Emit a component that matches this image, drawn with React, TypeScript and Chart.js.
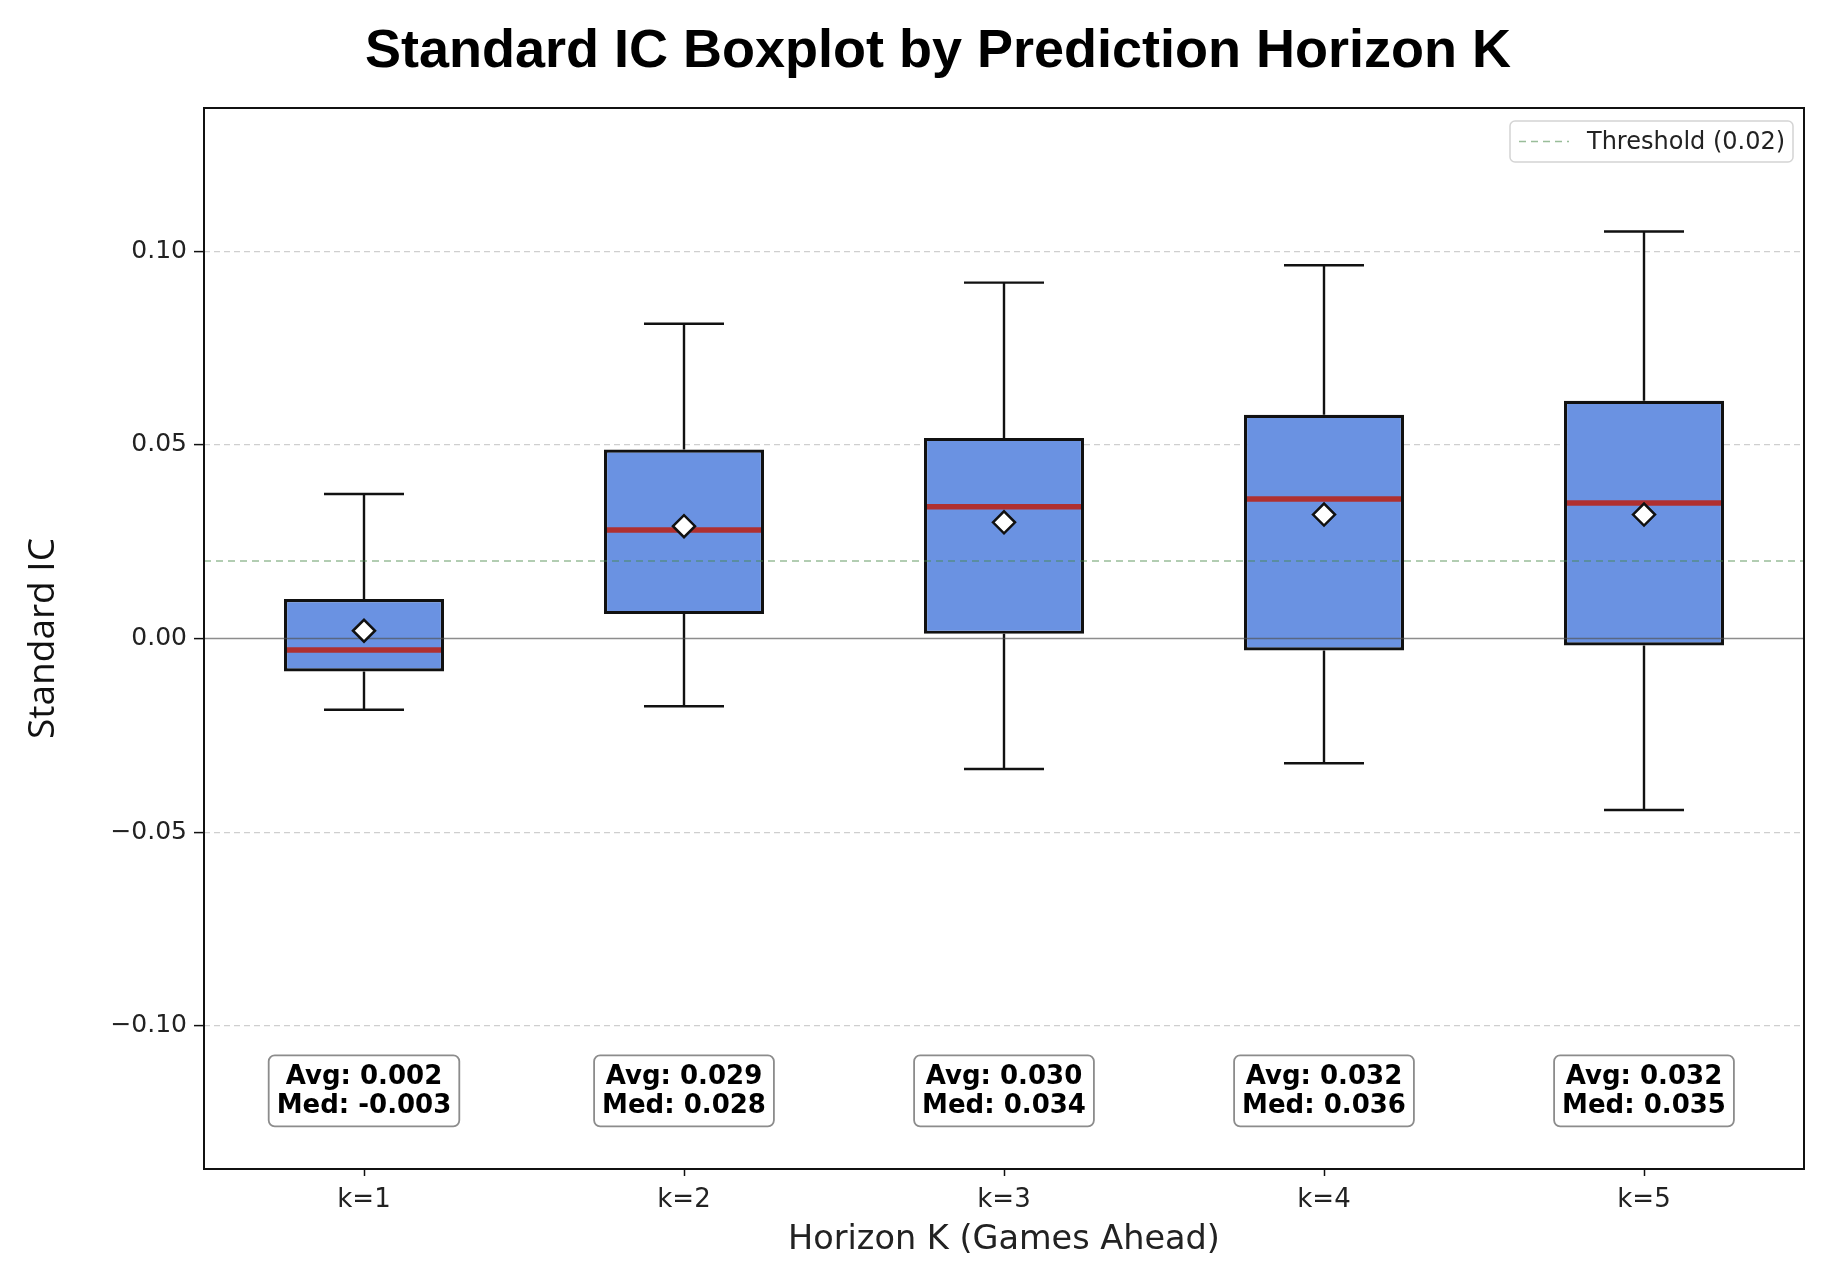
import { useEffect, useRef } from 'react';
import { Chart, registerables } from 'chart.js';

Chart.register(...registerables);

// Horizons and per-horizon box statistics of the standard IC
const CATEGORIES = ['k=1', 'k=2', 'k=3', 'k=4', 'k=5'];
const WHISKER_LOW = [-0.0184, -0.0175, -0.0337, -0.0322, -0.0443];
const Q1 = [-0.0085, 0.0063, 0.0012, -0.0031, -0.0018];
const MEDIANS = [-0.003, 0.028, 0.034, 0.036, 0.035];
const Q3 = [0.0102, 0.0488, 0.0518, 0.0578, 0.0614];
const WHISKER_HIGH = [0.0373, 0.0813, 0.0919, 0.0964, 0.1051];
const MEANS = [0.002, 0.029, 0.030, 0.032, 0.032];

const Y_TICKS = [-0.1, -0.05, 0, 0.05, 0.1];
const Y_MIN = -0.137;
const Y_MAX = 0.137;
const THRESHOLD = 0.02;
const THRESHOLD_LABEL = 'Threshold (0.02)';
const SUMMARY_Y = -0.1168;

const TITLE = 'Standard IC Boxplot by Prediction Horizon K';
const X_TITLE = 'Horizon K (Games Ahead)';
const Y_TITLE = 'Standard IC';

const BOX_FILL = 'rgb(106,146,226)';
const MEDIAN_COLOR = '#b03030';
const THRESHOLD_COLOR = 'rgba(70,135,70,0.55)';
const INK = '#111111';

const BOX_INDEX = 1;

const boxplotExtras = {
  id: 'boxplotExtras',
  beforeDatasetsDraw(chart: any) {
    const { ctx } = chart;
    const y = chart.scales.y;
    const meta = chart.getDatasetMeta(BOX_INDEX);
    ctx.save();
    ctx.strokeStyle = INK;
    ctx.lineWidth = 2.4;
    meta.data.forEach((bar: any, i: number) => {
      const x = bar.x;
      const cap = bar.width / 4;
      const yHi = y.getPixelForValue(WHISKER_HIGH[i]);
      const yLo = y.getPixelForValue(WHISKER_LOW[i]);
      ctx.beginPath();
      ctx.moveTo(x, y.getPixelForValue(Q3[i]));
      ctx.lineTo(x, yHi);
      ctx.moveTo(x, y.getPixelForValue(Q1[i]));
      ctx.lineTo(x, yLo);
      ctx.moveTo(x - cap, yHi);
      ctx.lineTo(x + cap, yHi);
      ctx.moveTo(x - cap, yLo);
      ctx.lineTo(x + cap, yLo);
      ctx.stroke();
    });
    ctx.restore();
  },
  afterDatasetDraw(chart: any, args: any) {
    if (args.index !== BOX_INDEX) return;
    const { ctx, chartArea } = chart;
    const y = chart.scales.y;
    ctx.save();
    // zero reference line
    const y0 = y.getPixelForValue(0);
    ctx.strokeStyle = 'rgba(80,80,80,0.65)';
    ctx.lineWidth = 1.6;
    ctx.beginPath();
    ctx.moveTo(chartArea.left, y0);
    ctx.lineTo(chartArea.right, y0);
    ctx.stroke();
    // threshold line
    const yt = y.getPixelForValue(THRESHOLD);
    ctx.strokeStyle = THRESHOLD_COLOR;
    ctx.setLineDash([7, 5]);
    ctx.lineWidth = 1.6;
    ctx.beginPath();
    ctx.moveTo(chartArea.left, yt);
    ctx.lineTo(chartArea.right, yt);
    ctx.stroke();
    ctx.setLineDash([]);
    // medians
    const meta = chart.getDatasetMeta(BOX_INDEX);
    ctx.strokeStyle = MEDIAN_COLOR;
    ctx.lineWidth = 5.5;
    meta.data.forEach((bar: any, i: number) => {
      const ym = y.getPixelForValue(MEDIANS[i]);
      ctx.beginPath();
      ctx.moveTo(bar.x - bar.width / 2 + 3, ym);
      ctx.lineTo(bar.x + bar.width / 2 - 3, ym);
      ctx.stroke();
    });
    ctx.restore();
  },
  afterDraw(chart: any) {
    const { ctx, chartArea } = chart;
    const x = chart.scales.x;
    const y = chart.scales.y;
    ctx.save();

    // summary boxes
    ctx.font = 'bold 26px "DejaVu Sans"';
    ctx.textAlign = 'center';
    ctx.textBaseline = 'middle';
    const cy = y.getPixelForValue(SUMMARY_Y);
    CATEGORIES.forEach((_, i) => {
      const l1 = `Avg: ${MEANS[i].toFixed(3)}`;
      const l2 = `Med: ${MEDIANS[i].toFixed(3)}`;
      const w = Math.max(ctx.measureText(l1).width, ctx.measureText(l2).width) + 16;
      const h = 71;
      const cx = x.getPixelForValue(i);
      ctx.beginPath();
      ctx.roundRect(cx - w / 2, cy - h / 2, w, h, 6);
      ctx.fillStyle = '#ffffff';
      ctx.fill();
      ctx.strokeStyle = '#8c8c8c';
      ctx.lineWidth = 1.8;
      ctx.stroke();
      ctx.fillStyle = '#000000';
      ctx.fillText(l1, cx, cy - 14);
      ctx.fillText(l2, cx, cy + 15);
    });

    // legend
    const lw = 283;
    const lh = 41;
    const lx = chartArea.right - 11 - lw;
    const ly = chartArea.top + 13;
    ctx.beginPath();
    ctx.roundRect(lx, ly, lw, lh, 5);
    ctx.fillStyle = 'rgba(255,255,255,0.9)';
    ctx.fill();
    ctx.strokeStyle = '#d4d4d4';
    ctx.lineWidth = 1.5;
    ctx.stroke();
    ctx.strokeStyle = THRESHOLD_COLOR;
    ctx.setLineDash([7, 5]);
    ctx.lineWidth = 1.6;
    ctx.beginPath();
    ctx.moveTo(lx + 9, ly + lh / 2);
    ctx.lineTo(lx + 59, ly + lh / 2);
    ctx.stroke();
    ctx.setLineDash([]);
    ctx.font = '24px "DejaVu Sans"';
    ctx.textAlign = 'left';
    ctx.fillStyle = '#222222';
    ctx.fillText(THRESHOLD_LABEL, lx + 77, ly + lh / 2 + 1);

    // axes frame
    ctx.strokeStyle = INK;
    ctx.lineWidth = 2;
    ctx.strokeRect(chartArea.left, chartArea.top, chartArea.right - chartArea.left, chartArea.bottom - chartArea.top);

    // title
    ctx.font = 'bold 54px "Liberation Sans", Arial, sans-serif';
    ctx.textAlign = 'center';
    ctx.textBaseline = 'alphabetic';
    ctx.fillStyle = '#000000';
    ctx.fillText(TITLE, 938, 67);
    ctx.restore();
  },
};

export default function App() {
  const canvasRef = useRef<HTMLCanvasElement | null>(null);

  useEffect(() => {
    document.body.style.margin = '0';
    document.body.style.overflow = 'hidden';
    const canvas = canvasRef.current;
    if (!canvas) return;
    const chart = new Chart(canvas, {
      type: 'bar',
      data: {
        labels: CATEGORIES,
        datasets: [
          {
            type: 'line',
            label: 'Mean',
            data: MEANS,
            showLine: false,
            pointStyle: 'rectRot',
            pointRadius: 11,
            pointBorderWidth: 2.5,
            pointBackgroundColor: '#ffffff',
            pointBorderColor: INK,
          } as any,
          {
            type: 'bar',
            label: 'IQR',
            data: Q1.map((q, i) => [q, Q3[i]]),
            backgroundColor: BOX_FILL,
            borderColor: INK,
            borderWidth: 3.2,
            borderSkipped: false,
            barPercentage: 0.5,
            categoryPercentage: 1.0,
          } as any,
        ],
      },
      options: {
        animation: false,
        responsive: true,
        maintainAspectRatio: false,
        events: [],
        layout: { padding: { top: 108, right: 32, left: 0, bottom: 0 } },
        plugins: {
          legend: { display: false },
          tooltip: { enabled: false },
          title: { display: false },
        },
        scales: {
          x: {
            type: 'category',
            offset: true,
            grid: {
              offset: false,
              drawOnChartArea: false,
              drawTicks: true,
              tickLength: 7,
              tickColor: INK,
              tickWidth: 1.5,
            },
            border: { display: false },
            ticks: {
              color: '#222222',
              padding: 9,
              font: { family: '"DejaVu Sans"', size: 26 },
            },
            title: {
              display: true,
              text: X_TITLE,
              color: '#222222',
              font: { family: '"DejaVu Sans"', size: 33.5 },
              padding: { top: 0, bottom: 8 },
            },
            afterFit: (s: any) => {
              s.height = 99;
            },
          },
          y: {
            type: 'linear',
            min: Y_MIN,
            max: Y_MAX,
            afterBuildTicks: (s: any) => {
              s.ticks = Y_TICKS.map((v) => ({ value: v }));
            },
            grid: {
              color: (c: any) => (c.tick && c.tick.value === 0 ? 'rgba(0,0,0,0)' : '#cfcfcf'),
              lineWidth: 1.2,
              drawTicks: true,
              tickLength: 10,
              tickColor: INK,
              tickWidth: 1.5,
            },
            border: { display: false, dash: [6, 4] },
            ticks: {
              color: '#222222',
              padding: 7,
              font: { family: '"DejaVu Sans"', size: 25 },
              callback: (v: any) => Number(v).toFixed(2).replace('-', '\u2212'),
            },
            title: {
              display: true,
              text: Y_TITLE,
              color: '#111111',
              font: { family: '"Open Sans"', size: 37 },
              padding: { top: 21, bottom: 0 },
            },
            afterFit: (s: any) => {
              s.width = 204;
            },
          },
        },
      },
      plugins: [boxplotExtras],
    });
    return () => chart.destroy();
  }, []);

  return (
    <div style={{ position: 'relative', width: '1836px', height: '1268px' }}>
      <canvas ref={canvasRef} />
    </div>
  );
}
